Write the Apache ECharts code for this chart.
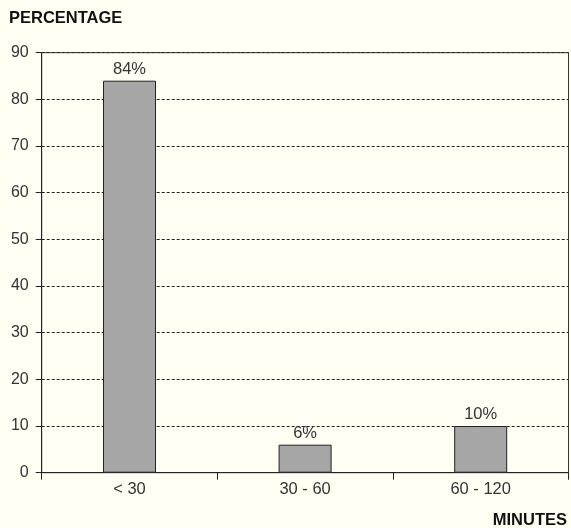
<!DOCTYPE html>
<html><head><meta charset="utf-8">
<script src="https://cdn.jsdelivr.net/npm/echarts@6/dist/echarts.min.js"></script>
<style>html,body{margin:0;padding:0;background:#fffff4;}#c{width:571px;height:528px;}</style>
</head><body><div id="c"></div>
<script>
var categories = ['< 30', '30 - 60', '60 - 120'];
var values = [84, 6, 10];
var yTicks = [0, 10, 20, 30, 40, 50, 60, 70, 80, 90];
var yTitle = 'PERCENTAGE';
var xTitle = 'MINUTES';

var chart = echarts.init(document.getElementById('c'));
var font = '"Liberation Sans", Arial, sans-serif';
chart.setOption({
  backgroundColor: '#fffff4',
  animation: false,
  title: [
    {text: yTitle, left: 9, top: 10, padding: 0, textStyle: {fontFamily: font, fontSize: 16.5, fontWeight: 'bold', color: '#111'}},
    {text: xTitle, right: 4, top: 512, padding: 0, textStyle: {fontFamily: font, fontSize: 16.5, fontWeight: 'bold', color: '#111'}}
  ],
  grid: {left: 41.7, right: 2.5, top: 52.7, bottom: 55.3, show: true, borderColor: '#333', borderWidth: 1, backgroundColor: 'transparent'},
  xAxis: {
    type: 'category', data: categories,
    axisLine: {lineStyle: {color: '#222', width: 1}},
    axisTick: {show: true, alignWithLabel: false, length: 7, lineStyle: {color: '#222'}},
    axisLabel: {fontFamily: font, fontSize: 16.5, color: '#333', margin: 8}
  },
  yAxis: {
    type: 'value', min: yTicks[0], max: yTicks[yTicks.length - 1], interval: 10,
    axisLine: {show: true, lineStyle: {color: '#222', width: 1}},
    axisTick: {show: true, length: 6, lineStyle: {color: '#222'}},
    axisLabel: {fontFamily: font, fontSize: 16, color: '#333', margin: 13},
    splitLine: {show: true, lineStyle: {color: '#222', type: [3, 2], width: 1}}
  },
  series: [{
    type: 'bar', data: values, barWidth: 53,
    itemStyle: {color: '#a6a6a6', borderColor: '#222', borderWidth: 1},
    label: {show: true, position: 'top', distance: 3, formatter: '{c}%', fontFamily: font, fontSize: 16.5, color: '#333'}
  }]
});
</script></body></html>
